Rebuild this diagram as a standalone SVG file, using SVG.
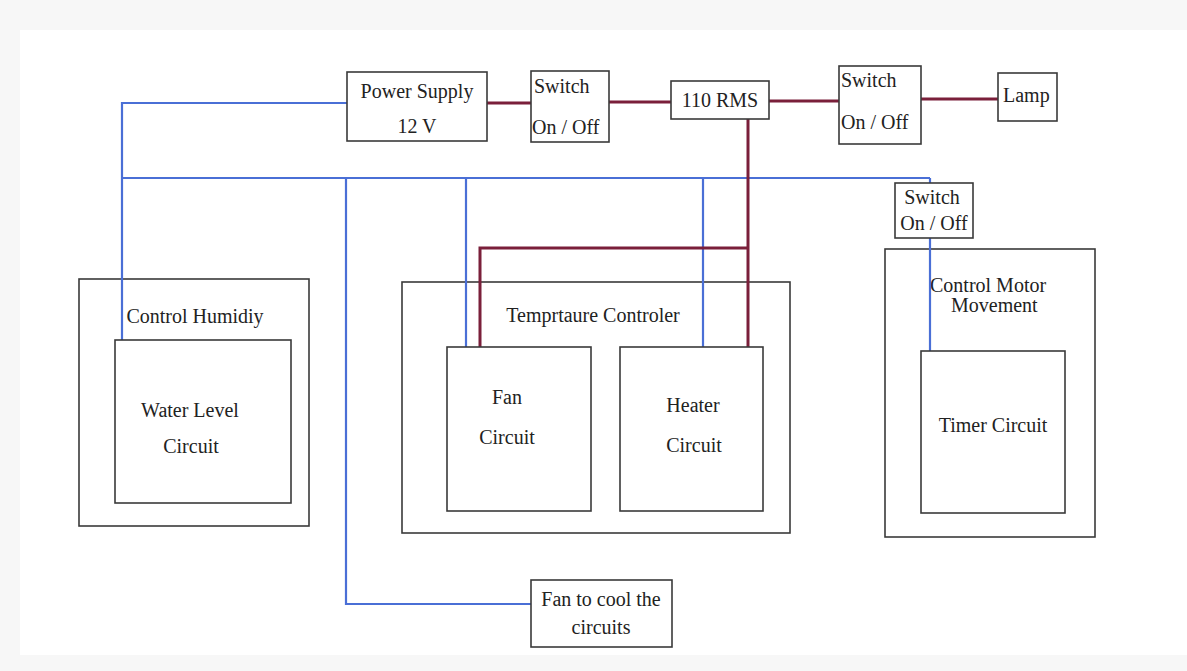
<svg xmlns="http://www.w3.org/2000/svg" width="1187" height="671" viewBox="0 0 1187 671">
<style>
.box{fill:#fff;stroke:#3a3a3a;stroke-width:1.6}
.t{font-family:"Liberation Serif","DejaVu Serif",serif;font-size:20px;fill:#222}
.m{text-anchor:middle}
.b{fill:none;stroke:#4a6fd6;stroke-width:2.2}
.r{fill:none;stroke:#7a1f3a;stroke-width:3}
</style>
<rect x="0" y="0" width="1187" height="671" fill="#f7f7f7"/>
<rect x="20" y="30" width="1167" height="625" fill="#fff"/>
<g id="outer-boxes">
<g id="control-humidity"><rect class="box" x="79" y="279" width="230" height="247"/><text class="t m" x="195" y="323">Control Humidiy</text></g>
<g id="temp-controller"><rect class="box" x="402" y="282" width="388" height="251"/><text class="t m" x="593" y="322">Temprtaure Controler</text></g>
<g id="control-motor"><rect class="box" x="885" y="249" width="210" height="288"/><text class="t" x="930" y="292">Control Motor</text><text class="t" x="951" y="312">Movement</text></g>
</g>
<g id="connectors">
<polyline class="b" points="347,103 122,103 122,340"/>
<line class="b" x1="122" y1="178" x2="930" y2="178"/>
<polyline class="b" points="346,178 346,604 531,604"/>
<line class="b" x1="466" y1="178" x2="466" y2="347"/>
<line class="b" x1="703" y1="178" x2="703" y2="347"/>
<line class="b" x1="930" y1="178" x2="930" y2="183"/>
<line class="b" x1="930" y1="238" x2="930" y2="351"/>
<line class="r" x1="487" y1="103" x2="531" y2="103"/>
<line class="r" x1="609" y1="102" x2="671" y2="102"/>
<line class="r" x1="769" y1="101" x2="839" y2="101"/>
<line class="r" x1="921" y1="99" x2="998" y2="99"/>
<line class="r" x1="748" y1="119" x2="748" y2="347"/>
<polyline class="r" points="748,248 480,248 480,347"/>
</g>
<g id="power-supply"><rect class="box" x="347" y="72" width="140" height="69"/><text class="t m" x="417" y="98">Power Supply</text><text class="t m" x="417" y="133">12 V</text></g>
<g id="switch1"><rect class="box" x="531" y="71" width="78" height="71"/><text class="t" x="534" y="93">Switch</text><text class="t" x="532" y="134">On / Off</text></g>
<g id="rms"><rect class="box" x="671" y="81" width="98" height="38"/><text class="t m" x="720" y="107">110 RMS</text></g>
<g id="switch2"><rect class="box" x="839" y="66" width="82" height="78"/><text class="t" x="841" y="87">Switch</text><text class="t" x="841" y="129">On / Off</text></g>
<g id="lamp"><rect class="box" x="998" y="73" width="59" height="48"/><text class="t" x="1003" y="102">Lamp</text></g>
<g id="switch3"><rect class="box" x="895" y="183" width="78" height="55"/><text class="t m" x="932" y="204">Switch</text><text class="t m" x="934" y="230">On / Off</text></g>
<g id="water-level"><rect class="box" x="115" y="340" width="176" height="163"/><text class="t m" x="190" y="417">Water Level</text><text class="t m" x="191" y="453">Circuit</text></g>
<g id="fan-circuit"><rect class="box" x="447" y="347" width="144" height="164"/><text class="t m" x="507" y="404">Fan</text><text class="t m" x="507" y="444">Circuit</text></g>
<g id="heater-circuit"><rect class="box" x="620" y="347" width="143" height="164"/><text class="t m" x="693" y="412">Heater</text><text class="t m" x="694" y="452">Circuit</text></g>
<g id="timer-circuit"><rect class="box" x="921" y="351" width="144" height="162"/><text class="t m" x="993" y="432">Timer Circuit</text></g>
<g id="fan-cool"><rect class="box" x="531" y="580" width="141" height="67"/><text class="t m" x="601" y="606">Fan to cool the</text><text class="t m" x="601" y="634">circuits</text></g>
</svg>
